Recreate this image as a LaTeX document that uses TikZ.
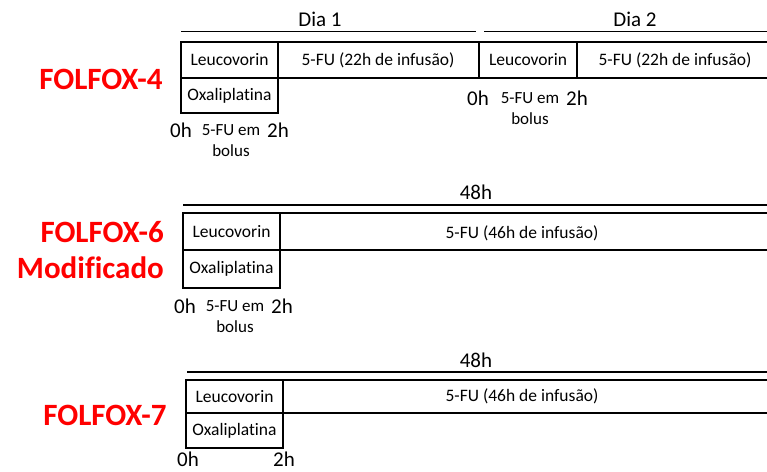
\documentclass[tikz,border=0pt]{standalone}
\usepackage{fontspec}
\setmainfont[Ligatures=NoCommon]{Carlito}
\begin{document}
\begin{tikzpicture}[x=1pt,y=-1pt,
  box/.style={line width=2.2pt, line cap=rect},
  span/.style={line width=1.4pt},
  regimen/.style={text=red, font=\bfseries\fontsize{31}{34}\selectfont, inner sep=0pt},
  drug/.style={font=\fontsize{17.5}{19}\selectfont, inner sep=0pt},
  period/.style={font=\fontsize{21}{23}\selectfont, inner sep=0pt},
  hour/.style={font=\fontsize{21}{23}\selectfont, inner sep=0pt},
  bolus/.style={font=\fontsize{17}{21}\selectfont, inner sep=0pt, align=center}]
\useasboundingbox (0,0) rectangle (767,471);

% ---------- FOLFOX-4 ----------
\node[regimen] (f4) at (101,79) {FOLFOX-4};
\node[period] (d1) at (320,19) {Dia 1};
\node[period] (d2) at (635,19) {Dia 2};
\coordinate (d1a) at (181,31.5); \coordinate (d1b) at (476,31.5);
\coordinate (d2a) at (484,31.5); \coordinate (d2b) at (767,31.5);
\draw[span] (d1a) -- (d1b);
\draw[span] (d2a) -- (d2b);
\draw[box] (181,42) -- (767,42);
\draw[box] (181,78) -- (767,78);
\draw[box] (181,42) rectangle (278,113);
\draw[box] (479,42) -- (479,78);
\draw[box] (577,42) -- (577,78);
\node[drug] (l4a) at (229.5,60) {Leucovorin};
\node[drug] (o4) at (229.5,96) {Oxaliplatina};
\node[drug] (u4a) at (378,60) {5-FU (22h de infusão)};
\node[drug] (l4b) at (528,60) {Leucovorin};
\node[drug] (u4b) at (675,60) {5-FU (22h de infusão)};
\node[hour] (h40a) at (181,130) {0h};
\node[hour] (h42a) at (278,130) {2h};
\node[bolus] (b4a) at (231,141) {5-FU em\\bolus};
\node[hour] (h40b) at (478,98) {0h};
\node[hour] (h42b) at (577,98) {2h};
\node[bolus] (b4b) at (530,109) {5-FU em\\bolus};

% ---------- FOLFOX-6 Modificado ----------
\node[regimen, anchor=east] (f6) at (164,232) {FOLFOX-6};
\node[regimen, anchor=east] (f6m) at (164,268) {Modificado};
\node[period] (t6) at (476,192) {48h};
\coordinate (t6a) at (183,205); \coordinate (t6b) at (767,205);
\draw[span] (t6a) -- (t6b);
\draw[box] (183,213) -- (767,213);
\draw[box] (183,250) -- (767,250);
\draw[box] (183,213) rectangle (280,288);
\node[drug] (l6) at (231.5,231.5) {Leucovorin};
\node[drug] (o6) at (231.5,269) {Oxaliplatina};
\node[drug] (u6) at (522,233) {5-FU (46h de infusão)};
\node[hour] (h60) at (185,306) {0h};
\node[hour] (h62) at (282,306) {2h};
\node[bolus] (b6) at (235,317) {5-FU em\\bolus};

% ---------- FOLFOX-7 ----------
\node[regimen] (f7) at (105,415) {FOLFOX-7};
\node[period] (t7) at (476,360) {48h};
\coordinate (t7a) at (187,372); \coordinate (t7b) at (767,372);
\draw[span] (t7a) -- (t7b);
\draw[box] (186,380) -- (767,380);
\draw[box] (186,413) -- (767,413);
\draw[box] (186,380) rectangle (283,448);
\node[drug] (l7) at (234.5,396.5) {Leucovorin};
\node[drug] (o7) at (234.5,431) {Oxaliplatina};
\node[drug] (u7) at (522,396) {5-FU (46h de infusão)};
\node[hour] (h70) at (188,459) {0h};
\node[hour] (h72) at (284,459) {2h};
\end{tikzpicture}
\end{document}
